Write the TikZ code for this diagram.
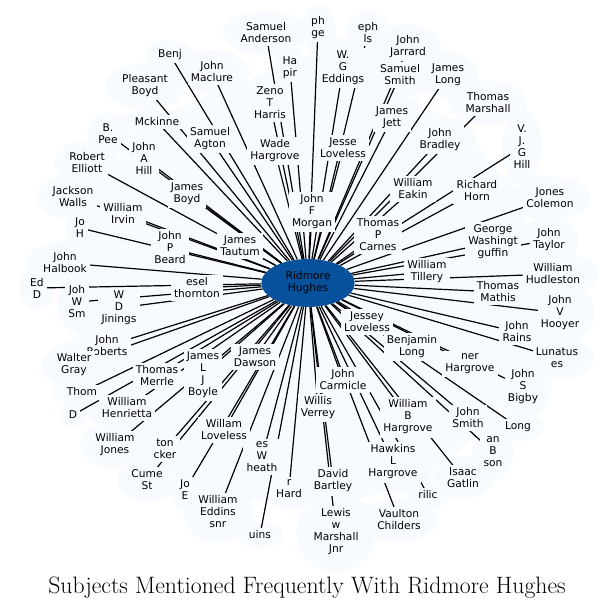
\documentclass[tikz,border=0pt]{standalone}
\usepackage{fontspec}
\newfontfamily\labelfont{DejaVu Sans}
\usetikzlibrary{shapes.geometric}
\definecolor{cloud}{HTML}{F7FBFF}
\definecolor{hub}{HTML}{08519C}
\tikzset{
  namefont/.style={font=\labelfont\fontsize{8}{9}\selectfont},
  blob/.style={namefont,ellipse,fill=cloud,inner sep=4pt,text opacity=0,align=center},
  who/.style={namefont,fill=cloud,inner sep=2.5pt,align=center},
  hubnode/.style={namefont,ellipse,fill=hub,minimum width=70pt,minimum height=36pt,inner sep=0pt,align=center},
  link/.style={line width=0.9pt}
}
\def\people{anderson/266/33/{Samuel\\Anderson},
phge/318/28/{ph\\ge},
ephls/368/33/{eph\\ls},
jarrard/408/47/{John\\Jarrard},
benj/170/55/{Benj},
maclure/212/72/{John\\Maclure},
hapir/290/68/{Ha\\pir},
eddings/343/68/{W.\\G\\Eddings},
ssmith/400/75/{Samuel\\Smith},
jlong/448/75/{James\\Long},
pboyd/145/86/{Pleasant\\Boyd},
zeno/270/103/{Zeno\\T\\Harris},
marshall/488/103/{Thomas\\Marshall},
jett/392/118/{James\\Jett},
mckinney/157/122/{Mckinne},
bpee/108/134/{B.\\Pee},
agton/210/139/{Samuel\\Agton},
bradley/440/140/{John\\Bradley},
vjghill/522/147/{V.\\J.\\G\\Hill},
jesse/343/148/{Jesse\\Loveless},
wade/275/151/{Wade\\Hargrove},
jahill/144/158/{John\\A\\Hill},
elliott/87/163/{Robert\\Elliott},
eakin/413/189/{William\\Eakin},
horn/477/191/{Richard\\Horn},
jboyd/187/194/{James\\Boyd},
jackson/73/197/{Jackson\\Walls},
colemon/550/198/{Jones\\Colemon},
morgan/312/212/{John\\F\\Morgan},
irvin/123/213/{William\\Irvin},
johnh/80/228/{Jo\\H},
carnes/378/235/{Thomas\\P\\Carnes},
taylor/549/240/{John\\Taylor},
guffin/493/242/{George\\Washingt\\guffin},
tautum/240/246/{James\\Tautum},
jpbeard/170/248/{John\\P\\Beard},
halbook/65/263/{John\\Halbook},
tillery/427/272/{William\\Tillery},
hudleston/553/274/{William\\Hudleston},
edd/37/288/{Ed\\D},
thornton/197/288/{esel\\thornton},
mathis/498/292/{Thomas\\Mathis},
jwsmith/77/302/{Joh\\W\\Sm},
jinings/119/308/{W\\D\\Jinings},
hooyer/560/313/{John\\V\\Hooyer},
jessey/367/322/{Jessey\\Loveless},
rains/517/332/{John\\Rains},
roberts/107/346/{John\\Roberts},
blong/412/347/{Benjamin\\Long},
dawson/255/357/{James\\Dawson},
lunatus/557/358/{Lunatus\\es},
thargrove/470/364/{ner\\Hargrove},
walter/74/365/{Walter\\Gray},
boyle/203/375/{James\\L\\J\\Boyle},
merrle/157/376/{Thomas\\Merrle},
carmicle/343/380/{John\\Carmicle},
bigby/523/387/{John\\S\\Bigby},
thom/82/392/{Thom},
henrietta/127/408/{William\\Henrietta},
verrey/318/408/{Willis\\Verrey},
dd/73/415/{D},
wbhargrove/408/417/{William\\B\\Hargrove},
jsmith/468/418/{John\\Smith},
long/518/427/{Long},
willam/224/430/{Willam\\Loveless},
wjones/115/445/{William\\Jones},
tucker/165/449/{ton\\cker},
wheath/262/457/{es\\W\\heath},
bson/493/452/{an\\B\\son},
hawkins/393/462/{Hawkins\\L\\Hargrove},
gatlin/463/478/{Isaac\\Gatlin},
cume/147/480/{Cume\\St},
bartley/333/481/{David\\Bartley},
hard/289/489/{r\\Hard},
joe/185/490/{Jo\\E},
rilic/428/495/{rilic},
eddins/218/512/{William\\Eddins\\snr},
vaulton/399/520/{Vaulton\\Childers},
lewis/336/532/{Lewis\\w\\Marshall\\Jnr},
uins/260/535/{uins}}
\begin{document}
\begin{tikzpicture}[x=0.75pt,y=-0.75pt]
\useasboundingbox (0,0) rectangle (615,611);
\fill[cloud] (305,290) ellipse [x radius=232,y radius=215];
\foreach \k/\px/\py/\txt in \people
  \node[blob] (b-\k) at (\px,\py) {\txt};
\node[hubnode] (hughes) at (308,283) {Ridmore\\Hughes};
\foreach \k/\px/\py/\txt in \people
  \draw[link] (hughes) -- (b-\k.center);
\foreach \k/\px/\py/\txt in \people
  \node[who] (\k) at (b-\k) {\txt};
\node[font=\fontsize{17.8}{20}\selectfont] (title) at (307,588) {Subjects Mentioned Frequently With Ridmore Hughes};
\end{tikzpicture}
\end{document}
